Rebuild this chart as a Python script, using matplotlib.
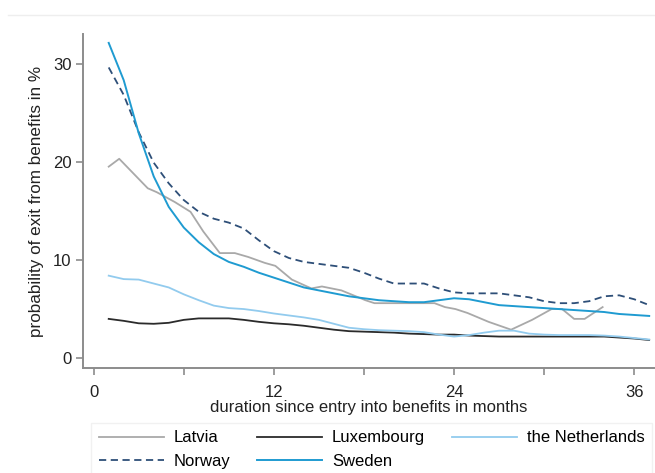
import matplotlib.pyplot as plt
import numpy as np

plt.rcParams['font.family'] = ['Liberation Sans', 'DejaVu Sans']

# months since entry (1..37)
months = list(range(1, 38))

sweden = [32.1, 28.3, 22.9, 18.5, 15.4, 13.3, 11.8, 10.6, 9.8, 9.3, 8.7, 8.2,
          7.7, 7.2, 6.9, 6.6, 6.3, 6.1, 5.9, 5.8, 5.7, 5.7, 5.9, 6.1, 6.0, 5.7,
          5.4, 5.3, 5.2, 5.1, 5.0, 4.9, 4.8, 4.7, 4.5, 4.4, 4.3]
norway = [29.6, 26.8, 23.0, 19.9, 17.8, 16.1, 14.9, 14.2, 13.8, 13.2, 12.0, 10.9,
          10.2, 9.8, 9.6, 9.4, 9.2, 8.7, 8.1, 7.6, 7.6, 7.6, 7.1, 6.7, 6.6, 6.6,
          6.6, 6.4, 6.2, 5.8, 5.6, 5.6, 5.8, 6.3, 6.4, 6.0, 5.4]
luxembourg = [4.0, 3.8, 3.55, 3.5, 3.6, 3.9, 4.05, 4.05, 4.05, 3.9, 3.7, 3.55,
              3.45, 3.3, 3.1, 2.9, 2.75, 2.7, 2.65, 2.6, 2.5, 2.45, 2.4, 2.4, 2.3,
              2.25, 2.2, 2.2, 2.2, 2.2, 2.2, 2.2, 2.2, 2.2, 2.1, 2.0, 1.85]
netherlands = [8.4, 8.05, 8.0, 7.6, 7.2, 6.5, 5.9, 5.35, 5.1, 5.0, 4.8, 4.55,
               4.35, 4.15, 3.9, 3.5, 3.1, 2.95, 2.85, 2.8, 2.75, 2.65, 2.4, 2.2,
               2.35, 2.6, 2.8, 2.8, 2.5, 2.4, 2.35, 2.35, 2.35, 2.3, 2.2, 2.05, 1.9]

# Latvia has its own (irregular) points
latvia_x = [1, 1.7, 3.6, 4.2, 5.4, 6.45, 7.3, 8.4, 9.4, 10.3, 11.4, 12.1, 13.2,
            14.5, 15.2, 16.5, 18.1, 18.7, 20.0, 22.1, 22.7, 23.4, 24.1, 24.9,
            26.3, 27.8, 29.2, 30.5, 31.2, 32.0, 32.7, 33.9]
latvia = [19.5, 20.3, 17.3, 16.9, 15.9, 14.9, 12.9, 10.7, 10.7, 10.3, 9.7, 9.4,
          8.0, 7.1, 7.3, 6.9, 5.9, 5.6, 5.6, 5.6, 5.6, 5.2, 5.0, 4.6, 3.7, 2.9,
          3.9, 5.0, 5.0, 4.0, 4.0, 5.2]

fig = plt.figure(figsize=(6.55, 4.73), dpi=100)
ax = fig.add_axes([0.127, 0.222, 0.871, 0.706])

l_lat, = ax.plot(latvia_x, latvia, color='#a9a9a9', lw=1.3, label='Latvia')
l_lux, = ax.plot(months, luxembourg, color='#2b2b2b', lw=1.3, label='Luxembourg')
l_ned, = ax.plot(months, netherlands, color='#92cbee', lw=1.3, label='the Netherlands')
l_nor, = ax.plot(months, norway, color='#2e4f78', lw=1.3, ls=(0, (4, 2.5)), label='Norway')
l_swe, = ax.plot(months, sweden, color='#1f9bd1', lw=1.4, label='Sweden')

ax.set_xlim(-0.7, 37.3)
ax.set_ylim(-1, 33)
ax.set_xticks([0, 6, 12, 18, 24, 30, 36])
ax.set_xticklabels(['0', '', '12', '', '24', '', '36'])
ax.set_yticks([0, 10, 20, 30])

for s in ['top', 'right']:
    ax.spines[s].set_visible(False)
for s in ['left', 'bottom']:
    ax.spines[s].set_color('#8c8c8c')
    ax.spines[s].set_linewidth(1.4)
ax.tick_params(colors='#8c8c8c', labelcolor='#222222', labelsize=12, length=5, width=1.2)
ax.tick_params(axis='x', pad=7)

ax.set_xlabel('duration since entry into benefits in months', fontsize=12,
              color='#222222', labelpad=0.5)
ax.set_ylabel('probability of exit from benefits in %', fontsize=12.3,
              color='#222222', labelpad=6)

# faint separator line at the top
fig.add_artist(plt.Line2D([0.012, 1.0], [0.968, 0.968], color='#eeeeee', lw=1))

# legend filled column by column -> order gives rows Latvia/Lux/NL, Norway/Sweden
handles = [l_lat, l_nor, l_lux, l_swe, l_ned]
leg = fig.legend(handles, [h.get_label() for h in handles], ncol=3, loc='upper left',
                 bbox_to_anchor=(0.139, 0.106), borderaxespad=0, fontsize=12,
                 frameon=True, handlelength=3.9, handletextpad=0.6,
                 columnspacing=1.6, labelspacing=0.5, borderpad=0.45,
                 fancybox=False)
leg.get_frame().set_edgecolor('#eeeeee')
leg.get_frame().set_linewidth(1)

fig.savefig('out.png', dpi=100)
